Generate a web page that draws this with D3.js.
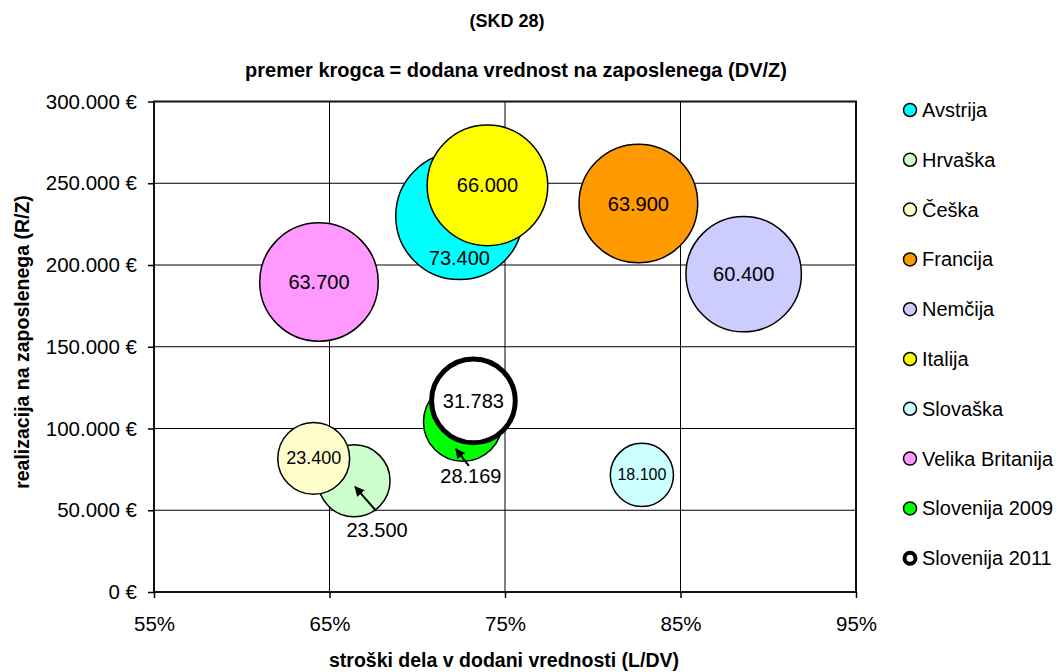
<!DOCTYPE html>
<html>
<head>
<meta charset="utf-8">
<script src="https://cdn.jsdelivr.net/npm/d3@7"></script>
<style>
  body { margin: 0; background: #fff; }
  text { font-family: "Liberation Sans", Arial, sans-serif; fill: #000; }
</style>
</head>
<body>
<div id="chart"></div>
<script>
// series, in the order Excel draws them
var countries = ['Avstrija', 'Hrvaška', 'Češka', 'Francija', 'Nemčija', 'Italija', 'Slovaška', 'Velika Britanija', 'Slovenija 2009', 'Slovenija 2011']
var laborShare = [72.4, 66.4, 64.1, 82.6, 88.6, 74.0, 82.8, 64.4, 72.6, 73.2]            // L/DV in %
var revenuePerEmp = [230000, 68000, 81700, 237600, 194400, 248700, 71600, 189600, 104000, 116900] // R/Z
var valueAdded = [73400, 23500, 23400, 63900, 60400, 66000, 18100, 63700, 28169, 31783]   // DV/Z
var colors = ['#00FFFF', '#CCFFCC', '#FFFFCC', '#FF9900', '#CCCCFF', '#FFFF00', '#CCFFFF', '#FF99FF', '#00FF00', '#FFFFFF']

var xTicks = [55, 65, 75, 85, 95]
var yTicks = [0, 50000, 100000, 150000, 200000, 250000, 300000]

var width = 1060
var height = 672
var plot = { left: 154, right: 856, top: 101.5, bottom: 592 }

var svg = d3
  .select('#chart')
  .append('svg')
  .attr('width', width)
  .attr('height', height)

var x = d3.scaleLinear().domain([55, 95]).range([plot.left, plot.right])
var y = d3.scaleLinear().domain([0, 300000]).range([plot.bottom, plot.top])
var r = d3.scaleSqrt().domain([0, 73400]).range([0, 63.6])

var locale = d3.formatLocale({ decimal: ',', thousands: '.', grouping: [3], currency: ['', ' €'] })
var thousands = locale.format(',')

var data = countries.map(function(name, i) {
  return { name: name, share: laborShare[i], rev: revenuePerEmp[i], dv: valueAdded[i], color: colors[i] }
})

// label tweaks copied from the original layout (moved labels + arrows)
var labelStyle = {
  'Avstrija': { dy: 42 },
  'Hrvaška': { dx: 23, dy: 49, arrow: [[22, 30], [1, 6]] },
  'Češka': { size: 18 },
  'Slovaška': { size: 16 },
  'Slovenija 2009': { dx: 8, dy: 54, arrow: [[6, 44], [-7, 27]] }
}

// gridlines
svg.append('g')
  .selectAll('line')
  .data(xTicks.slice(1, -1))
  .join('line')
  .attr('x1', d => x(d))
  .attr('x2', d => x(d))
  .attr('y1', plot.top)
  .attr('y2', plot.bottom)
  .attr('stroke', '#000')
  .attr('stroke-width', 1)

svg.append('g')
  .selectAll('line')
  .data(yTicks.slice(1, -1))
  .join('line')
  .attr('x1', plot.left)
  .attr('x2', plot.right)
  .attr('y1', d => y(d))
  .attr('y2', d => y(d))
  .attr('stroke', '#000')
  .attr('stroke-width', 1)

// plot frame
svg.append('rect')
  .attr('x', plot.left)
  .attr('y', plot.top)
  .attr('width', plot.right - plot.left)
  .attr('height', plot.bottom - plot.top)
  .attr('fill', 'none')
  .attr('stroke', '#111')
  .attr('stroke-width', 2)

// axes
var xAxis = svg.append('g')
  .attr('transform', 'translate(0,' + plot.bottom + ')')
  .call(d3.axisBottom(x).tickValues(xTicks).tickFormat(d => d + '%').tickSize(6).tickPadding(18))
var yAxis = svg.append('g')
  .attr('transform', 'translate(' + plot.left + ',0)')
  .call(d3.axisLeft(y).tickValues(yTicks).tickFormat(d => thousands(d) + ' €').tickSize(6).tickPadding(11))

;[xAxis, yAxis].forEach(function(ax) {
  ax.select('.domain').remove()
  ax.selectAll('.tick line').attr('stroke', '#000').attr('stroke-width', 1.5)
  ax.selectAll('.tick text')
    .attr('fill', '#000')
    .style('font-size', '20.5px')
    .style('font-family', '"Liberation Sans", Arial, sans-serif')
})

// bubbles
svg.append('g')
  .selectAll('circle')
  .data(data)
  .join('circle')
  .attr('cx', d => x(d.share))
  .attr('cy', d => y(d.rev))
  .attr('r', d => r(d.dv))
  .attr('fill', d => d.color)
  .attr('stroke', '#000')
  .attr('stroke-width', d => d.name === 'Slovenija 2011' ? 5 : 1.5)

// arrows for moved labels
svg.append('defs')
  .append('marker')
  .attr('id', 'arrow')
  .attr('viewBox', '0 0 10 10')
  .attr('refX', 9)
  .attr('refY', 5)
  .attr('markerWidth', 5)
  .attr('markerHeight', 5)
  .attr('orient', 'auto')
  .append('path')
  .attr('d', 'M0,0L10,5L0,10z')
  .attr('fill', '#000')

svg.append('g')
  .selectAll('line')
  .data(data.filter(d => labelStyle[d.name] && labelStyle[d.name].arrow))
  .join('line')
  .attr('x1', d => x(d.share) + labelStyle[d.name].arrow[0][0])
  .attr('y1', d => y(d.rev) + labelStyle[d.name].arrow[0][1])
  .attr('x2', d => x(d.share) + labelStyle[d.name].arrow[1][0])
  .attr('y2', d => y(d.rev) + labelStyle[d.name].arrow[1][1])
  .attr('stroke', '#000')
  .attr('stroke-width', 2)
  .attr('marker-end', 'url(#arrow)')

svg.append('g')
  .selectAll('text')
  .data(data)
  .join('text')
  .attr('x', d => x(d.share) + ((labelStyle[d.name] || {}).dx || 0))
  .attr('y', d => y(d.rev) + ((labelStyle[d.name] || {}).dy || 0))
  .attr('text-anchor', 'middle')
  .attr('dominant-baseline', 'central')
  .style('font-size', d => ((labelStyle[d.name] || {}).size || 20) + 'px')
  .text(d => thousands(d.dv))

// titles
svg.append('text')
  .attr('x', 507)
  .attr('y', 27)
  .attr('text-anchor', 'middle')
  .style('font-size', '18px')
  .style('font-weight', 'bold')
  .text('(SKD 28)')

svg.append('text')
  .attr('x', 516)
  .attr('y', 77)
  .attr('text-anchor', 'middle')
  .style('font-size', '20px')
  .style('font-weight', 'bold')
  .text('premer krogca = dodana vrednost na zaposlenega (DV/Z)')

svg.append('text')
  .attr('x', 504)
  .attr('y', 667)
  .attr('text-anchor', 'middle')
  .style('font-size', '19.5px')
  .style('font-weight', 'bold')
  .text('stroški dela v dodani vrednosti (L/DV)')

svg.append('text')
  .attr('transform', 'translate(22,342) rotate(-90)')
  .attr('text-anchor', 'middle')
  .attr('dominant-baseline', 'central')
  .style('font-size', '19.5px')
  .style('font-weight', 'bold')
  .text('realizacija na zaposlenega (R/Z)')

// legend
var legend = svg.append('g')
  .selectAll('g')
  .data(data)
  .join('g')
  .attr('transform', (d, i) => 'translate(910,' + (110 + i * 49.8) + ')')

legend.append('circle')
  .attr('r', d => d.name === 'Slovenija 2011' ? 5.5 : 6.5)
  .attr('fill', d => d.color)
  .attr('stroke', '#000')
  .attr('stroke-width', d => d.name === 'Slovenija 2011' ? 4 : 1.5)

legend.append('text')
  .attr('x', 12)
  .attr('dominant-baseline', 'central')
  .style('font-size', '20px')
  .text(d => d.name)
</script>
</body>
</html>
